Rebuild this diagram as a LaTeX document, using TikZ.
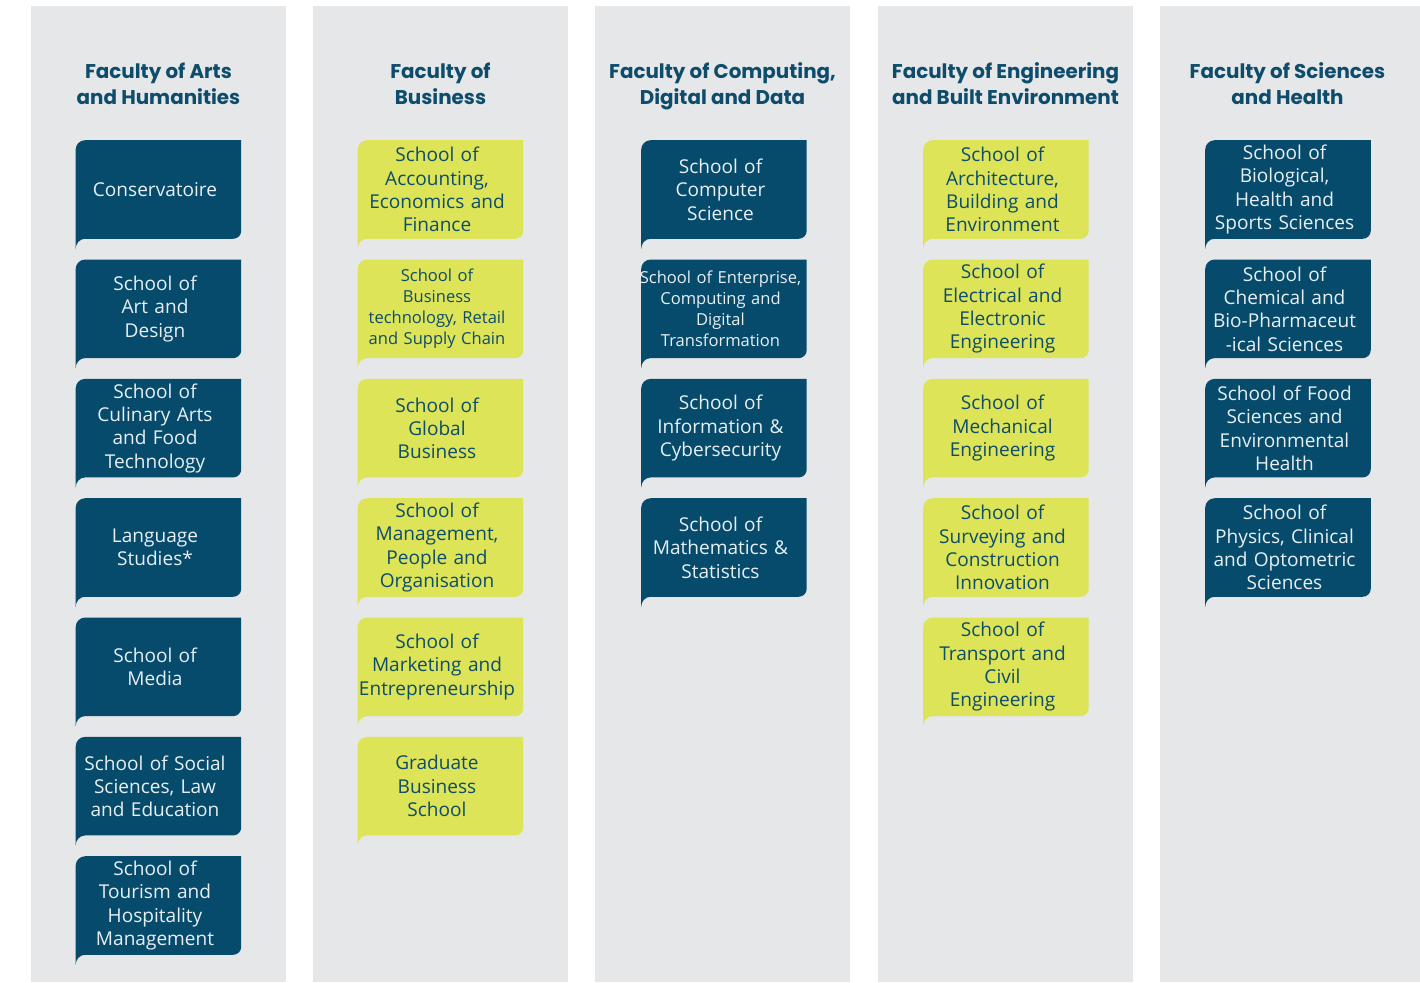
\documentclass[tikz,border=0pt]{standalone}
\usepackage{fontspec}
\newfontfamily\boxfont{Open Sans}
\newfontfamily\headfont{Poppins}
\usetikzlibrary{positioning,backgrounds}
\definecolor{colgray}{RGB}{230,231,233}
\definecolor{navy}{RGB}{6,75,107}
\definecolor{lime}{RGB}{221,228,87}
\definecolor{headblue}{RGB}{13,76,107}
\definecolor{paletext}{RGB}{232,239,243}
\begin{document}
\begin{tikzpicture}[x=0.75pt, y=0.75pt, node distance=15.6pt,
	faculty/.style={align=center, text=headblue, font=\headfont\bfseries\fontsize{14.9}{19.5}\selectfont,
		execute at begin node=\strut, execute at end node=\strut},
	school/.style={inner sep=0pt, minimum width=123.75pt, minimum height=73.5pt, text width=123.75pt, align=center,
		font=\boxfont\fontsize{14.3}{17.5}\selectfont,
		append after command={\pgfextra{\begin{pgfonlayer}{background}
			\fill[#1] ([xshift=2.6pt]\tikzlastnode.north east) -- ([xshift=2.6pt, yshift=6pt]\tikzlastnode.south east)
			arc[start angle=0, end angle=-90, radius=6pt] -- ([xshift=9.6pt]\tikzlastnode.south west)
			.. controls +(-4pt,0pt) and +(0pt,4pt) .. ([xshift=2.6pt, yshift=-7.5pt]\tikzlastnode.south west)
			-- ([xshift=2.6pt, yshift=-7pt]\tikzlastnode.north west)
			arc[start angle=180, end angle=90, radius=7pt] -- cycle;
			\end{pgfonlayer}}}},
	navybox/.style={school=navy, text=paletext},
	limebox/.style={school=lime, text=headblue},
	small/.style={font=\boxfont\fontsize{12.4}{15.8}\selectfont}]
	\useasboundingbox (0,0) rectangle (1420,-982);
	\begin{scope}[on background layer]
		\fill[colgray] (31,-6) rectangle (286,-982);
		\fill[colgray] (313,-6) rectangle (568,-982);
		\fill[colgray] (595,-6) rectangle (850,-982);
		\fill[colgray] (878,-6) rectangle (1133,-982);
		\fill[colgray] (1160,-6) rectangle (1420,-982);
	\end{scope}

	\node[faculty] (artsfac) at (158.5,-87.5) {Faculty of Arts\\and Humanities};
	\node[faculty] (busfac) at (440.5,-87.5) {Faculty of\\Business};
	\node[faculty] (compfac) at (722.5,-87.5) {Faculty of Computing,\\Digital and Data};
	\node[faculty] (engfac) at (1005.5,-87.5) {Faculty of Engineering\\and Built Environment};
	\node[faculty] (scifac) at (1287.5,-87.5) {Faculty of Sciences\\and Health};

	\node[navybox] (arts1) at (155,-189.5) {Conservatoire};
	\node[navybox, below=of arts1] (arts2) {School of\\Art and\\Design};
	\node[navybox, below=of arts2] (arts3) {School of\\Culinary Arts\\and Food\\Technology};
	\node[navybox, below=of arts3] (arts4) {Language\\Studies*};
	\node[navybox, below=of arts4] (arts5) {School of\\Media};
	\node[navybox, below=of arts5] (arts6) {School of Social\\Sciences, Law\\and Education};
	\node[navybox, below=of arts6] (arts7) {School of\\Tourism and\\Hospitality\\Management};

	\node[limebox] (bus1) at (437,-189.5) {School of\\Accounting,\\Economics and\\Finance};
	\node[limebox, small, below=of bus1] (bus2) {School of\\Business\\technology, Retail\\and Supply Chain};
	\node[limebox, below=of bus2] (bus3) {School of\\Global\\Business};
	\node[limebox, below=of bus3] (bus4) {School of\\Management,\\People and\\Organisation};
	\node[limebox, below=of bus4] (bus5) {School of\\Marketing and\\Entrepreneurship};
	\node[limebox, below=of bus5] (bus6) {Graduate\\Business\\School};

	\node[navybox] (comp1) at (720.5,-189.5) {School of\\Computer\\Science};
	\node[navybox, small, below=of comp1] (comp2) {School of Enterprise,\\Computing and\\Digital\\Transformation};
	\node[navybox, below=of comp2] (comp3) {School of\\Information \&\\Cybersecurity};
	\node[navybox, below=of comp3] (comp4) {School of\\Mathematics \&\\Statistics};

	\node[limebox] (eng1) at (1002.5,-189.5) {School of\\Architecture,\\Building and\\Environment};
	\node[limebox, below=of eng1] (eng2) {School of\\Electrical and\\Electronic\\Engineering};
	\node[limebox, below=of eng2] (eng3) {School of\\Mechanical\\Engineering};
	\node[limebox, below=of eng3] (eng4) {School of\\Surveying and\\Construction\\Innovation};
	\node[limebox, below=of eng4] (eng5) {School of\\Transport and\\Civil\\Engineering};

	\node[navybox] (sci1) at (1284.5,-189.5) {School of\\Biological,\\Health and\\Sports Sciences};
	\node[navybox, below=of sci1] (sci2) {School of\\Chemical and\\Bio-Pharmaceut\\-ical Sciences};
	\node[navybox, below=of sci2] (sci3) {School of Food\\Sciences and\\Environmental\\Health};
	\node[navybox, below=of sci3] (sci4) {School of\\Physics, Clinical\\and Optometric\\Sciences};
\end{tikzpicture}
\end{document}
